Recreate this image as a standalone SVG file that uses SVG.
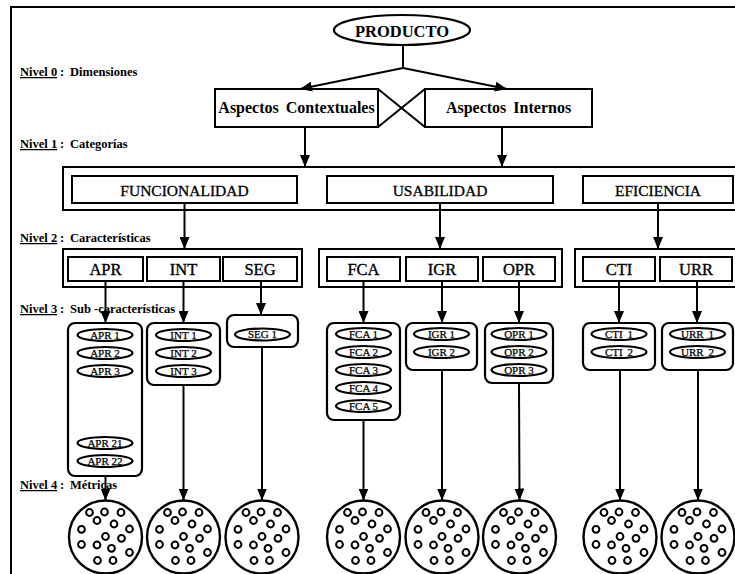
<svg xmlns="http://www.w3.org/2000/svg" xmlns:xlink="http://www.w3.org/1999/xlink" width="735" height="574" viewBox="0 0 735 574">
<style>
.box{fill:#fff;stroke:#000;stroke-width:2}
.rbox{fill:#fff;stroke:#000;stroke-width:2.2}
.ell{fill:#fff;stroke:#000;stroke-width:2.2}
.ln{fill:none;stroke:#000;stroke-width:2}
.arr{fill:none;stroke:#000;stroke-width:2;marker-end:url(#ah)}
.t{font-family:"Liberation Serif","Times New Roman",serif;fill:#000}
.b{font-weight:bold}
.lvl{font-family:"Liberation Serif","Times New Roman",serif;font-weight:bold;font-size:12.5px;fill:#000}
.e{font-family:"Liberation Serif","Times New Roman",serif;font-size:11px;fill:#000;stroke:#000;stroke-width:0.25;text-anchor:middle}
.c2{font-family:"Liberation Serif","Times New Roman",serif;font-size:16.5px;fill:#000;stroke:#000;stroke-width:0.35;text-anchor:middle}
.c1{font-family:"Liberation Serif","Times New Roman",serif;font-size:15.5px;fill:#000;stroke:#000;stroke-width:0.3;text-anchor:middle}
.met{fill:#fff;stroke:#000;stroke-width:2.4}
.sm{fill:none;stroke:#000;stroke-width:2}
</style>
<defs>
<marker id="ah" markerUnits="userSpaceOnUse" markerWidth="12" markerHeight="10" refX="12" refY="5" orient="auto">
<path d="M0,0 L12,5 L0,10 z" fill="#000"/>
</marker>
<g id="metric">
<circle class="met" cx="0" cy="0" r="36.5"/>
<circle class="sm" cx="-16" cy="-24.5" r="3.4"/>
<circle class="sm" cx="-1" cy="-25" r="3.4"/>
<circle class="sm" cx="15.5" cy="-24.5" r="3.4"/>
<circle class="sm" cx="-8.5" cy="-16.5" r="3.4"/>
<circle class="sm" cx="8.5" cy="-13" r="3.4"/>
<circle class="sm" cx="-24" cy="-7.7" r="3.4"/>
<circle class="sm" cx="24" cy="-8" r="3.4"/>
<circle class="sm" cx="0" cy="-0.5" r="3.4"/>
<circle class="sm" cx="16" cy="1.3" r="3.4"/>
<circle class="sm" cx="-24" cy="7.5" r="3.4"/>
<circle class="sm" cx="-8.5" cy="8" r="3.4"/>
<circle class="sm" cx="6" cy="11.3" r="3.4"/>
<circle class="sm" cx="24" cy="15.5" r="3.4"/>
<circle class="sm" cx="-8" cy="23.5" r="3.4"/>
<circle class="sm" cx="7.5" cy="23.5" r="3.4"/>
</g>
</defs>
<rect x="0" y="0" width="735" height="574" fill="#fff"/>
<rect id="frame" x="11" y="7" width="740" height="580" fill="none" stroke="#000" stroke-width="2"/>

<g id="levels">
<text class="lvl" y="76"><tspan x="20" text-decoration="underline">Nivel 0</tspan><tspan x="60">:</tspan><tspan x="70">Dimensiones</tspan></text>
<text class="lvl" y="148"><tspan x="20" text-decoration="underline">Nivel 1</tspan><tspan x="60">:</tspan><tspan x="70">Categorías</tspan></text>
<text class="lvl" y="242"><tspan x="20" text-decoration="underline">Nivel 2</tspan><tspan x="60">:</tspan><tspan x="70">Características</tspan></text>
<text class="lvl" y="313"><tspan x="20" text-decoration="underline">Nivel 3</tspan><tspan x="60">:</tspan><tspan x="70">Sub -características</tspan></text>
<text class="lvl" y="489"><tspan x="20" text-decoration="underline">Nivel 4</tspan><tspan x="60">:</tspan><tspan x="70">Métricas</tspan></text>
</g>

<g id="producto">
<ellipse class="ell" cx="402" cy="30" rx="68" ry="15"/>
<text class="t b" x="402" y="37" font-size="16.5" text-anchor="middle">PRODUCTO</text>
</g>

<g id="contextuales">
<rect class="box" x="215" y="89" width="163" height="38"/>
<text class="t b" x="296.5" y="113" font-size="16" text-anchor="middle" word-spacing="3">Aspectos Contextuales</text>
</g>
<g id="internos">
<rect class="box" x="425" y="89" width="167" height="38"/>
<text class="t b" x="508.5" y="113" font-size="16" text-anchor="middle" word-spacing="3">Aspectos Internos</text>
</g>
<g id="cruce">
<line class="ln" x1="378" y1="89" x2="425" y2="127"/>
<line class="ln" x1="378" y1="127" x2="425" y2="89"/>
</g>

<g id="categorias">
<rect class="box" x="63" y="167" width="680" height="43"/>
<g id="funcionalidad"><rect class="box" x="72" y="176" width="225" height="27"/><text class="c1" x="184.5" y="196">FUNCIONALIDAD</text></g>
<g id="usabilidad"><rect class="box" x="327" y="176" width="226" height="27"/><text class="c1" x="440" y="196">USABILIDAD</text></g>
<g id="eficiencia"><rect class="box" x="583" y="176" width="150" height="27"/><text class="c1" x="658" y="196">EFICIENCIA</text></g>
</g>

<g id="caract-func">
<rect class="box" x="63" y="249" width="239" height="38"/>
<g id="apr"><rect class="box" x="68" y="257" width="75" height="24"/><text class="c2" x="105.5" y="275">APR</text></g>
<g id="int"><rect class="box" x="147" y="257" width="73" height="24"/><text class="c2" x="183.5" y="275">INT</text></g>
<g id="seg"><rect class="box" x="223" y="257" width="74" height="24"/><text class="c2" x="260" y="275">SEG</text></g>
</g>
<g id="caract-usab">
<rect class="box" x="319" y="249" width="243" height="38"/>
<g id="fca"><rect class="box" x="327" y="257" width="73" height="24"/><text class="c2" x="363.5" y="275">FCA</text></g>
<g id="igr"><rect class="box" x="406" y="257" width="72" height="24"/><text class="c2" x="442" y="275">IGR</text></g>
<g id="opr"><rect class="box" x="483" y="257" width="72" height="24"/><text class="c2" x="519" y="275">OPR</text></g>
</g>
<g id="caract-efic">
<rect class="box" x="575" y="249" width="170" height="38"/>
<g id="cti"><rect class="box" x="583" y="257" width="72" height="24"/><text class="c2" x="619" y="275">CTI</text></g>
<g id="urr"><rect class="box" x="660" y="257" width="72" height="24"/><text class="c2" x="696" y="275">URR</text></g>
</g>

<g id="sub-apr">
<rect class="rbox" x="68" y="323" width="74" height="153" rx="7"/>
<ellipse class="ell" cx="105" cy="335" rx="27.5" ry="6"/><text class="e" x="105" y="338.8">APR 1</text>
<ellipse class="ell" cx="105" cy="353" rx="27.5" ry="6"/><text class="e" x="105" y="356.8">APR 2</text>
<ellipse class="ell" cx="105" cy="371" rx="27.5" ry="6"/><text class="e" x="105" y="374.8">APR 3</text>
<ellipse class="ell" cx="105" cy="443" rx="27.5" ry="6"/><text class="e" x="105" y="446.8">APR 21</text>
<ellipse class="ell" cx="105" cy="461" rx="27.5" ry="6"/><text class="e" x="105" y="464.8">APR 22</text>
</g>
<g id="sub-int">
<rect class="rbox" x="147" y="323" width="73" height="62" rx="7"/>
<ellipse class="ell" cx="183.5" cy="335" rx="27.5" ry="6"/><text class="e" x="183.5" y="338.8">INT 1</text>
<ellipse class="ell" cx="183.5" cy="353" rx="27.5" ry="6"/><text class="e" x="183.5" y="356.8">INT 2</text>
<ellipse class="ell" cx="183.5" cy="371" rx="27.5" ry="6"/><text class="e" x="183.5" y="374.8">INT 3</text>
</g>
<g id="sub-seg">
<rect class="rbox" x="227" y="315" width="71" height="32" rx="7"/>
<ellipse class="ell" cx="262.5" cy="334.5" rx="27.5" ry="6"/><text class="e" x="262.5" y="338.3">SEG 1</text>
</g>
<g id="sub-fca">
<rect class="rbox" x="327" y="323" width="73" height="97" rx="7"/>
<ellipse class="ell" cx="363.5" cy="334" rx="27.5" ry="6"/><text class="e" x="363.5" y="337.8">FCA 1</text>
<ellipse class="ell" cx="363.5" cy="352" rx="27.5" ry="6"/><text class="e" x="363.5" y="355.8">FCA 2</text>
<ellipse class="ell" cx="363.5" cy="370" rx="27.5" ry="6"/><text class="e" x="363.5" y="373.8">FCA 3</text>
<ellipse class="ell" cx="363.5" cy="388" rx="27.5" ry="6"/><text class="e" x="363.5" y="391.8">FCA 4</text>
<ellipse class="ell" cx="363.5" cy="406" rx="27.5" ry="6"/><text class="e" x="363.5" y="409.8">FCA 5</text>
</g>
<g id="sub-igr">
<rect class="rbox" x="406" y="323" width="71" height="47" rx="7"/>
<ellipse class="ell" cx="441.5" cy="334" rx="27.5" ry="6"/><text class="e" x="441.5" y="337.8">IGR 1</text>
<ellipse class="ell" cx="441.5" cy="352" rx="27.5" ry="6"/><text class="e" x="441.5" y="355.8">IGR 2</text>
</g>
<g id="sub-opr">
<rect class="rbox" x="485" y="323" width="68" height="60" rx="7"/>
<ellipse class="ell" cx="519" cy="334" rx="27.5" ry="6"/><text class="e" x="519" y="337.8">OPR 1</text>
<ellipse class="ell" cx="519" cy="352" rx="27.5" ry="6"/><text class="e" x="519" y="355.8">OPR 2</text>
<ellipse class="ell" cx="519" cy="370" rx="27.5" ry="6"/><text class="e" x="519" y="373.8">OPR 3</text>
</g>
<g id="sub-cti">
<rect class="rbox" x="583" y="323" width="72" height="47" rx="7"/>
<ellipse class="ell" cx="619" cy="334" rx="27.5" ry="6"/><text class="e" x="619" y="337.8" word-spacing="2">CTI 1</text>
<ellipse class="ell" cx="619" cy="352" rx="27.5" ry="6"/><text class="e" x="619" y="355.8" word-spacing="2">CTI 2</text>
</g>
<g id="sub-urr">
<rect class="rbox" x="662" y="323" width="71" height="47" rx="7"/>
<ellipse class="ell" cx="697.5" cy="334" rx="27.5" ry="6"/><text class="e" x="697.5" y="337.8" word-spacing="2">URR 1</text>
<ellipse class="ell" cx="697.5" cy="352" rx="27.5" ry="6"/><text class="e" x="697.5" y="355.8" word-spacing="2">URR 2</text>
</g>

<g id="metricas">
<use id="m-apr" xlink:href="#metric" transform="translate(105.5,537)"/>
<use id="m-int" xlink:href="#metric" transform="translate(183.5,537)"/>
<use id="m-seg" xlink:href="#metric" transform="translate(262,537)"/>
<use id="m-fca" xlink:href="#metric" transform="translate(363.5,537)"/>
<use id="m-igr" xlink:href="#metric" transform="translate(442,537)"/>
<use id="m-opr" xlink:href="#metric" transform="translate(519.5,537)"/>
<use id="m-cti" xlink:href="#metric" transform="translate(620,537)"/>
<use id="m-urr" xlink:href="#metric" transform="translate(698,537)"/>
</g>

<g id="connectors">
<line class="ln" x1="403" y1="45" x2="403" y2="68"/>
<line class="arr" x1="403" y1="68" x2="300" y2="89"/>
<line class="arr" x1="403" y1="68" x2="507" y2="89"/>
<line class="arr" x1="305" y1="127" x2="305" y2="167"/>
<line class="arr" x1="502" y1="127" x2="502" y2="167"/>
<line class="arr" x1="184.5" y1="203" x2="184.5" y2="249"/>
<line class="arr" x1="440" y1="203" x2="440" y2="249"/>
<line class="arr" x1="658" y1="203" x2="658" y2="249"/>
<line class="arr" x1="105.5" y1="281" x2="105.5" y2="323"/>
<line class="arr" x1="183.5" y1="281" x2="183.5" y2="323"/>
<line class="arr" x1="261" y1="281" x2="261" y2="315"/>
<line class="arr" x1="363.5" y1="281" x2="363.5" y2="323"/>
<line class="arr" x1="442" y1="281" x2="442" y2="323"/>
<line class="arr" x1="519" y1="281" x2="519" y2="323"/>
<line class="arr" x1="619" y1="281" x2="619" y2="323"/>
<line class="arr" x1="697" y1="281" x2="697" y2="323"/>
<line class="arr" x1="105.5" y1="476" x2="105.5" y2="500.5"/>
<line class="arr" x1="183.5" y1="385" x2="183.5" y2="500.5"/>
<line class="arr" x1="262" y1="347" x2="262" y2="500.5"/>
<line class="arr" x1="363.5" y1="420" x2="363.5" y2="500.5"/>
<line class="arr" x1="442" y1="370" x2="442" y2="500.5"/>
<line class="arr" x1="519" y1="383" x2="519.5" y2="500.5"/>
<line class="arr" x1="620" y1="370" x2="620" y2="500.5"/>
<line class="arr" x1="698" y1="370" x2="698" y2="500.5"/>
</g>
</svg>
